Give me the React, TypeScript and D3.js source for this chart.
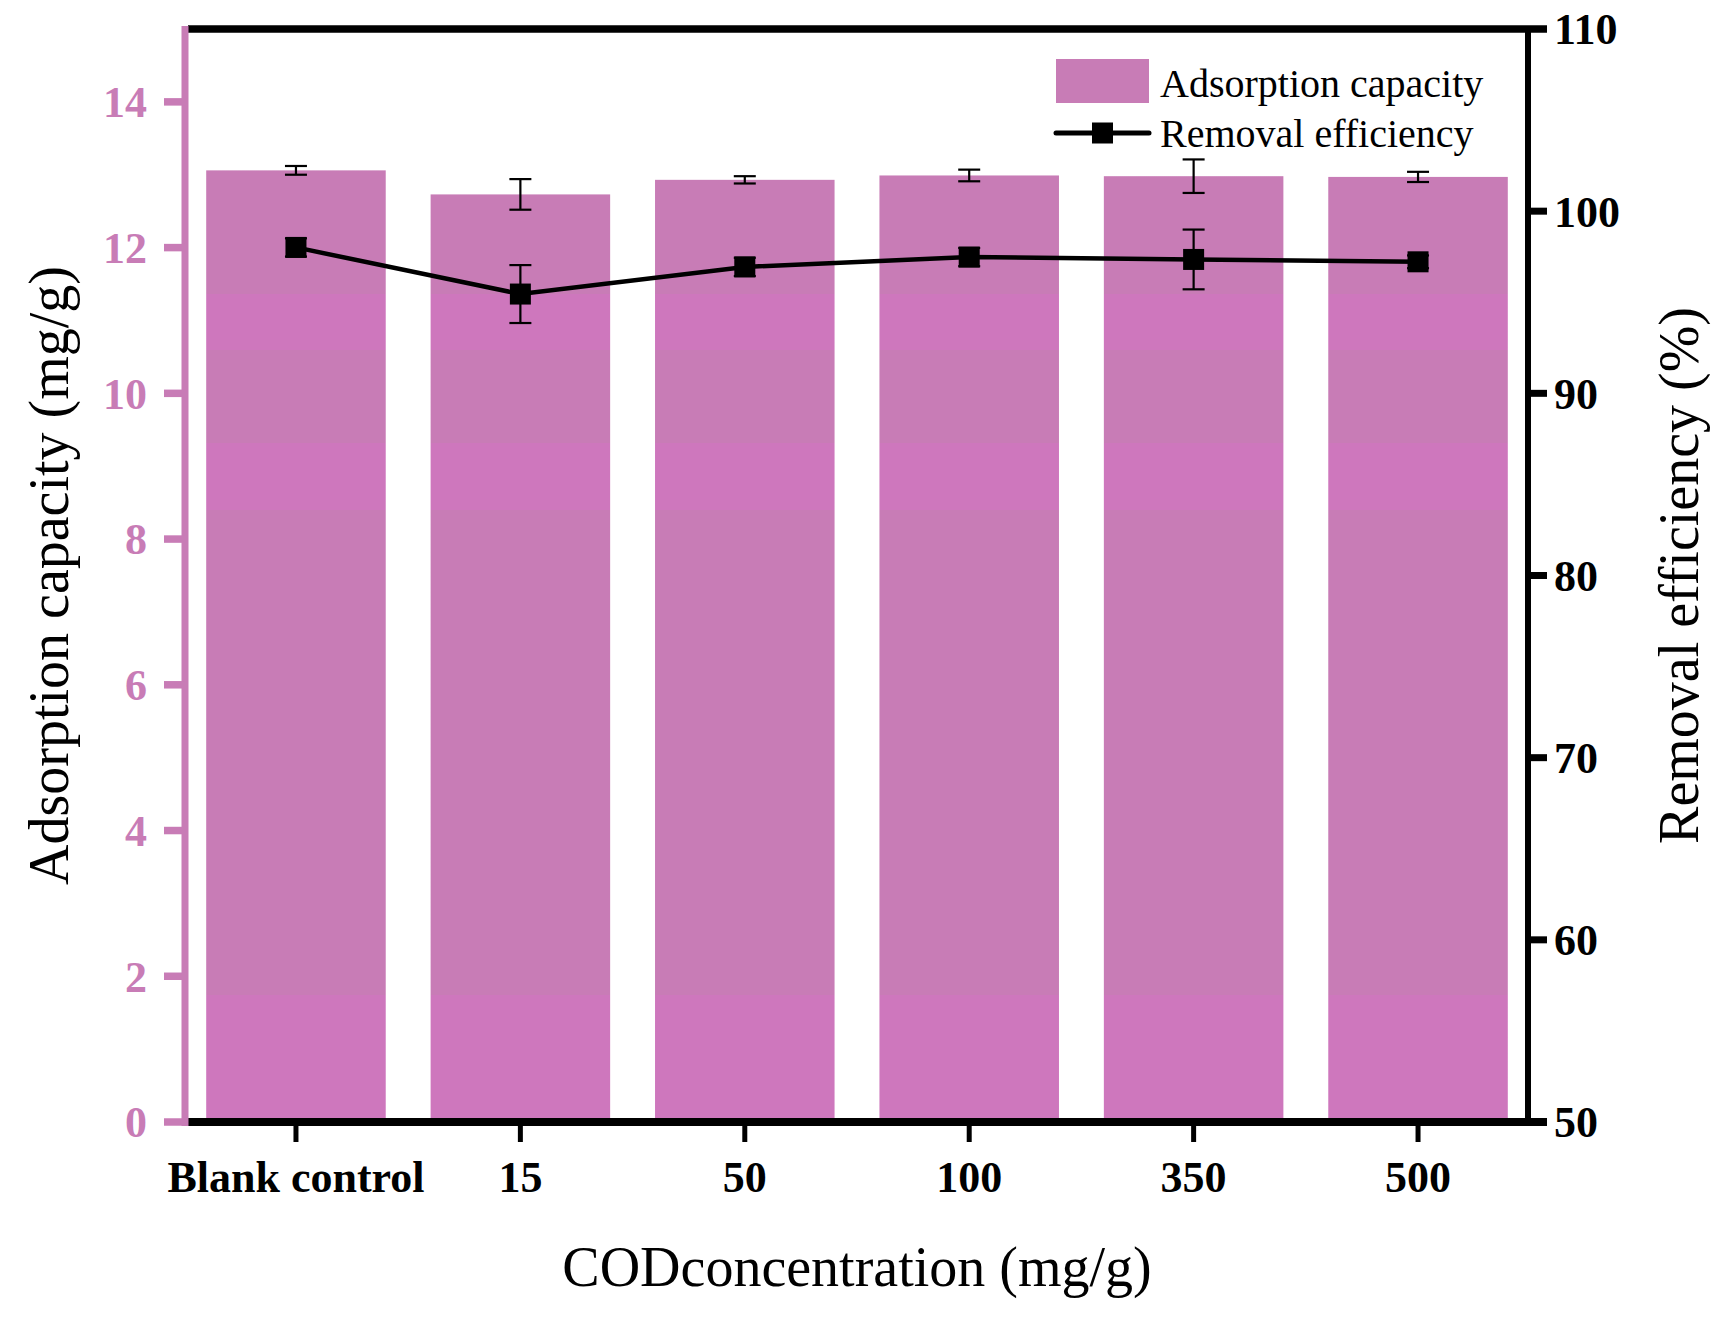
import React, { useEffect, useRef } from "react";
import * as d3 from "d3";

// values
const categories = ["Blank control", "15", "50", "100", "350", "500"];
const capacity = [13.06, 12.73, 12.93, 12.99, 12.98, 12.97];
const capacityErr = [0.06, 0.21, 0.05, 0.08, 0.23, 0.07];
const efficiency = [98.01, 95.45, 96.94, 97.48, 97.35, 97.22];
const efficiencyErr = [0.5, 1.59, 0.5, 0.5, 1.64, 0.35];

const leftTicks = [0, 2, 4, 6, 8, 10, 12, 14];
const rightTicks = [50, 60, 70, 80, 90, 100, 110];

// lighter/darker banding seen in the bar fill (in adsorption-capacity units)
const fillBands: [number, number][] = [
  [11.36, 10.6],
  [9.32, 8.4],
  [1.74, 0],
];

const PINK = "#C87CB6";
const BAND_PINK = "#CE77BD";
const FONT = "'Liberation Serif', 'Times New Roman', serif";

export default function App() {
  const svgRef = useRef<SVGSVGElement>(null);

  useEffect(() => {
    document.body.style.margin = "0";
    if (!svgRef.current) return;

    const width = 1729;
    const height = 1317;
    const left = 186;
    const right = 1528;
    const top = 29;
    const bottom = 1122;

    const svg = d3.select(svgRef.current);
    svg.attr("width", width).attr("height", height).attr("viewBox", `0 0 ${width} ${height}`);
    svg.selectAll("*").remove();

    const x = d3
      .scaleBand<string>()
      .domain(categories)
      .range([left, right])
      .paddingInner(0.2)
      .paddingOuter(0.09);

    const yL = d3.scaleLinear().domain([0, 15]).range([bottom, top]);
    const yR = d3.scaleLinear().domain([50, 110]).range([bottom, top]);

    // bar gradient with hard bands
    const grad = svg
      .append("defs")
      .append("linearGradient")
      .attr("id", "barFill")
      .attr("gradientUnits", "userSpaceOnUse")
      .attr("x1", 0)
      .attr("x2", 0)
      .attr("y1", 0)
      .attr("y2", height);
    grad.append("stop").attr("offset", 0).attr("stop-color", PINK);
    fillBands.forEach(([hi, lo]) => {
      const o1 = yL(hi) / height;
      const o2 = yL(lo) / height;
      grad.append("stop").attr("offset", o1).attr("stop-color", PINK);
      grad.append("stop").attr("offset", o1).attr("stop-color", BAND_PINK);
      grad.append("stop").attr("offset", o2).attr("stop-color", BAND_PINK);
      grad.append("stop").attr("offset", o2).attr("stop-color", PINK);
    });
    grad.append("stop").attr("offset", 1).attr("stop-color", PINK);

    // bars
    svg
      .append("g")
      .selectAll("rect")
      .data(categories)
      .join("rect")
      .attr("x", (d) => x(d)!)
      .attr("width", x.bandwidth())
      .attr("y", (_, i) => yL(capacity[i]))
      .attr("height", (_, i) => yL(0) - yL(capacity[i]))
      .attr("fill", "url(#barFill)");

    const cx = (i: number) => x(categories[i])! + x.bandwidth() / 2;
    const capW = 11;

    const errorBar = (g: any, xc: number, y1: number, y2: number) => {
      g.append("line").attr("x1", xc).attr("x2", xc).attr("y1", y1).attr("y2", y2);
      g.append("line").attr("x1", xc - capW).attr("x2", xc + capW).attr("y1", y1).attr("y2", y1);
      g.append("line").attr("x1", xc - capW).attr("x2", xc + capW).attr("y1", y2).attr("y2", y2);
    };

    // bar error bars
    const barErr = svg.append("g").attr("stroke", "#000").attr("stroke-width", 2.2);
    capacity.forEach((v, i) => {
      errorBar(barErr, cx(i), yL(v + capacityErr[i]), yL(v - capacityErr[i]));
    });

    // removal efficiency line
    const line = d3
      .line<number>()
      .x((_, i) => cx(i))
      .y((d) => yR(d));

    svg
      .append("path")
      .datum(efficiency)
      .attr("d", line)
      .attr("fill", "none")
      .attr("stroke", "#000")
      .attr("stroke-width", 4.5);

    const lineErr = svg.append("g").attr("stroke", "#000").attr("stroke-width", 2.2);
    efficiency.forEach((v, i) => {
      errorBar(lineErr, cx(i), yR(v + efficiencyErr[i]), yR(v - efficiencyErr[i]));
    });

    const mk = 21;
    svg
      .append("g")
      .selectAll("rect")
      .data(efficiency)
      .join("rect")
      .attr("x", (_, i) => cx(i) - mk / 2)
      .attr("y", (d) => yR(d) - mk / 2)
      .attr("width", mk)
      .attr("height", mk)
      .attr("fill", "#000");

    // frame: top and bottom black lines
    svg
      .append("line")
      .attr("x1", left + 2)
      .attr("x2", right)
      .attr("y1", top)
      .attr("y2", top)
      .attr("stroke", "#000")
      .attr("stroke-width", 7.5);
    svg
      .append("line")
      .attr("x1", left + 2)
      .attr("x2", right)
      .attr("y1", bottom)
      .attr("y2", bottom)
      .attr("stroke", "#000")
      .attr("stroke-width", 8);

    // left axis (pink)
    const axL = svg.append("g");
    axL
      .append("line")
      .attr("x1", left - 1)
      .attr("x2", left - 1)
      .attr("y1", top - 3)
      .attr("y2", bottom + 4)
      .attr("stroke", PINK)
      .attr("stroke-width", 7);
    leftTicks.forEach((t) => {
      axL
        .append("line")
        .attr("x1", left - 22)
        .attr("x2", left - 1)
        .attr("y1", yL(t))
        .attr("y2", yL(t))
        .attr("stroke", PINK)
        .attr("stroke-width", 7.5);
      axL
        .append("text")
        .attr("x", left - 39)
        .attr("y", yL(t))
        .attr("dy", "0.35em")
        .attr("text-anchor", "end")
        .style("font-family", FONT)
        .style("font-weight", "bold")
        .style("font-size", "44px")
        .style("fill", PINK)
        .text(t);
    });

    // right axis (black)
    const axR = svg.append("g");
    axR
      .append("line")
      .attr("x1", right)
      .attr("x2", right)
      .attr("y1", top)
      .attr("y2", bottom)
      .attr("stroke", "#000")
      .attr("stroke-width", 6);
    rightTicks.forEach((t) => {
      axR
        .append("line")
        .attr("x1", right)
        .attr("x2", right + 19)
        .attr("y1", yR(t))
        .attr("y2", yR(t))
        .attr("stroke", "#000")
        .attr("stroke-width", t === 50 ? 8 : t === 110 ? 7.5 : 7);
      axR
        .append("text")
        .attr("x", right + 26)
        .attr("y", yR(t))
        .attr("dy", "0.35em")
        .style("font-family", FONT)
        .style("font-weight", "bold")
        .style("font-size", "44px")
        .style("fill", "#000")
        .text(t);
    });

    // bottom ticks and labels
    const axB = svg.append("g");
    categories.forEach((c, i) => {
      axB
        .append("line")
        .attr("x1", cx(i))
        .attr("x2", cx(i))
        .attr("y1", bottom)
        .attr("y2", bottom + 20)
        .attr("stroke", "#000")
        .attr("stroke-width", 5);
      axB
        .append("text")
        .attr("x", cx(i))
        .attr("y", 1192)
        .attr("text-anchor", "middle")
        .style("font-family", FONT)
        .style("font-weight", "bold")
        .style("font-size", "44px")
        .style("fill", "#000")
        .text(c);
    });

    // axis titles
    svg
      .append("text")
      .attr("x", (left + right) / 2)
      .attr("y", 1286)
      .attr("text-anchor", "middle")
      .style("font-family", FONT)
      .style("font-size", "56px")
      .text("CODconcentration (mg/g)");

    svg
      .append("text")
      .attr("transform", `translate(68, ${(top + bottom) / 2}) rotate(-90)`)
      .attr("text-anchor", "middle")
      .style("font-family", FONT)
      .style("font-size", "56px")
      .text("Adsorption capacity (mg/g)");

    svg
      .append("text")
      .attr("transform", `translate(1698, ${(top + bottom) / 2}) rotate(-90)`)
      .attr("text-anchor", "middle")
      .style("font-family", FONT)
      .style("font-size", "56px")
      .text("Removal efficiency (%)");

    // legend
    const lg = svg.append("g");
    const lgX = 1056;
    lg.append("rect")
      .attr("x", lgX)
      .attr("y", 59)
      .attr("width", 93)
      .attr("height", 44)
      .attr("fill", PINK);
    lg.append("line")
      .attr("x1", lgX)
      .attr("x2", lgX + 93)
      .attr("y1", 133)
      .attr("y2", 133)
      .attr("stroke", "#000")
      .attr("stroke-width", 5)
      .attr("stroke-linecap", "round");
    lg.append("rect")
      .attr("x", lgX + 46.5 - mk / 2)
      .attr("y", 133 - mk / 2)
      .attr("width", mk)
      .attr("height", mk)
      .attr("fill", "#000");
    lg.append("text")
      .attr("x", lgX + 104)
      .attr("y", 97)
      .style("font-family", FONT)
      .style("font-size", "40px")
      .text("Adsorption capacity");
    lg.append("text")
      .attr("x", lgX + 104)
      .attr("y", 147)
      .style("font-family", FONT)
      .style("font-size", "40px")
      .text("Removal efficiency");
  }, []);

  return <svg ref={svgRef} style={{ display: "block" }} />;
}
